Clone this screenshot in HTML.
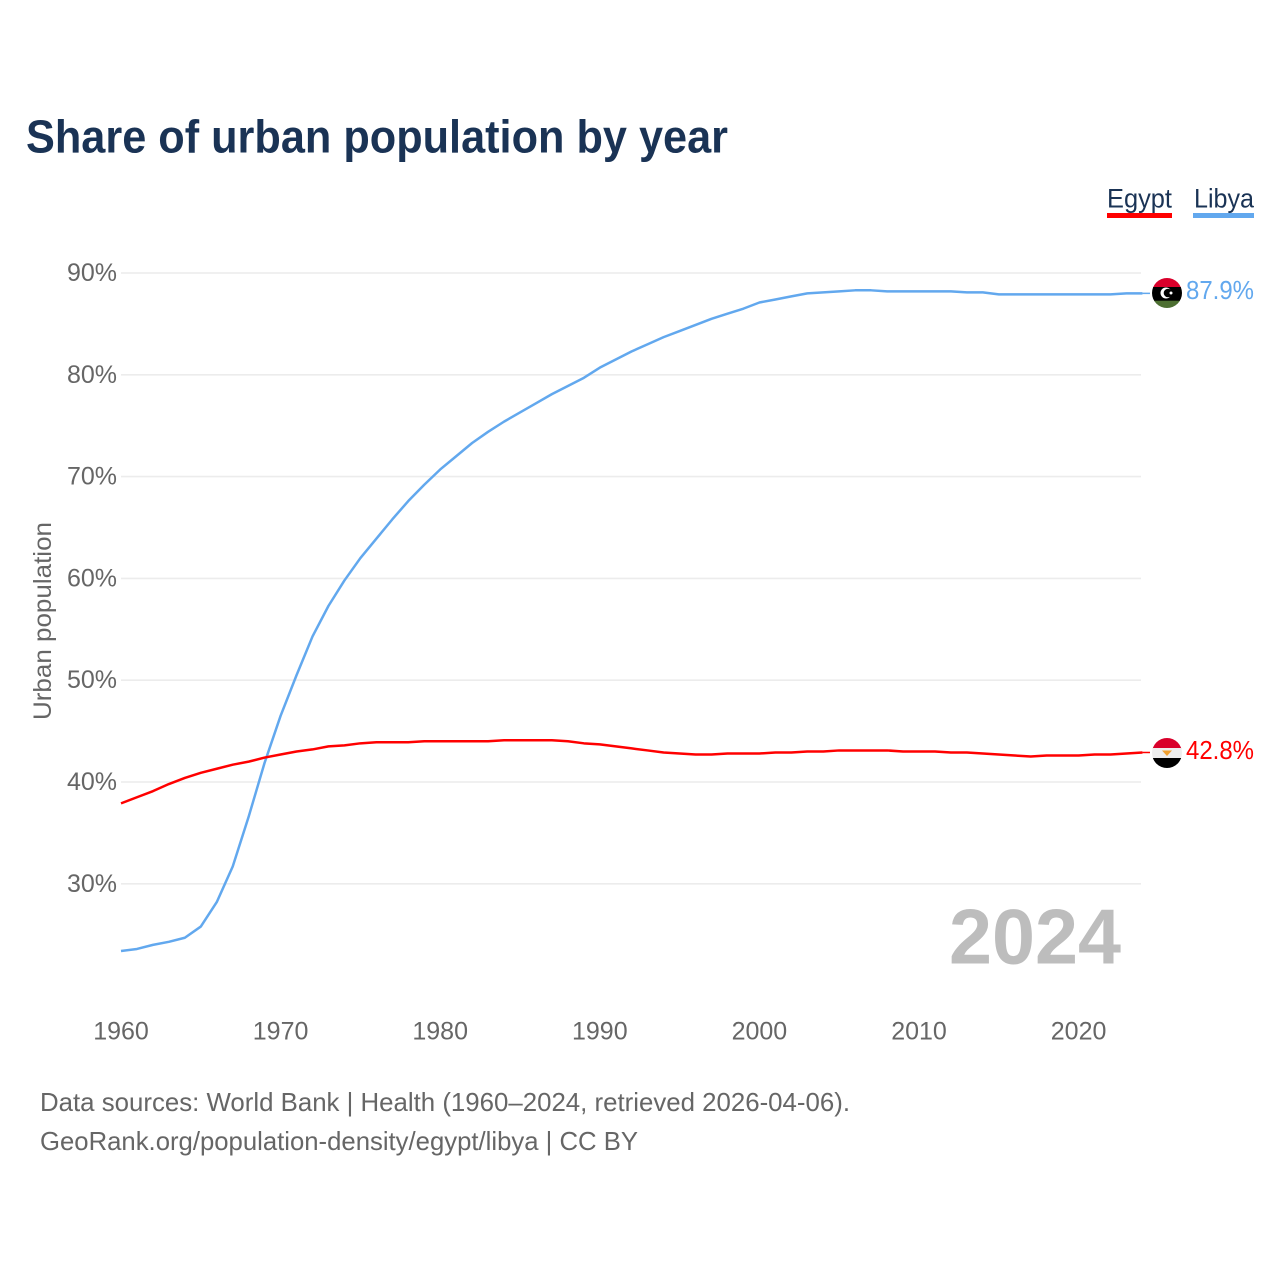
<!DOCTYPE html>
<html lang="en">
<head>
<meta charset="utf-8">
<title>Share of urban population by year</title>
<style>
html,body{margin:0;padding:0;background:#fff;width:1280px;height:1280px;overflow:hidden}
svg{display:block}
text{font-family:"Liberation Sans",sans-serif}
</style>
</head>
<body>
<svg id="chart" xmlns="http://www.w3.org/2000/svg" width="1280" height="1280" viewBox="0 0 1280 1280">
  <defs>
    <clipPath id="clip-libya"><circle cx="1167" cy="293" r="15"/></clipPath>
    <clipPath id="clip-egypt"><circle cx="1167" cy="753" r="15"/></clipPath>
  </defs>
  <text x="26" y="152.500" font-size="46" font-weight="700" fill="#1a3355" textLength="702" lengthAdjust="spacingAndGlyphs">Share of urban population by year</text>

  <g>
    <g>
      <text x="1107" y="207.500" font-size="27" fill="#1a3355" textLength="65" lengthAdjust="spacingAndGlyphs">Egypt</text>
      <rect x="1107" y="213" width="65" height="5" fill="#ff0000"/>
    </g>
    <g>
      <text x="1194" y="207.500" font-size="27" fill="#1a3355" textLength="60" lengthAdjust="spacingAndGlyphs">Libya</text>
      <rect x="1193" y="213" width="61" height="5" fill="#62a8ee"/>
    </g>
  </g>

  <g id="grid"></g>
  <g id="y-ticks"></g>
  <g id="x-ticks"></g>

  <text transform="translate(51,621) rotate(-90)" text-anchor="middle" font-size="25" fill="#666666" textLength="198" lengthAdjust="spacingAndGlyphs">Urban population</text>

  <text x="949" y="963.500" font-size="78" font-weight="700" fill="#bdbdbd" textLength="172" lengthAdjust="spacingAndGlyphs">2024</text>

  <g id="series"></g>

  <g clip-path="url(#clip-libya)">
    <rect x="1152" y="278" width="30" height="9.500" fill="#d9002b"/>
    <rect x="1152" y="287" width="30" height="14" fill="#000000"/>
    <rect x="1152" y="300.700" width="30" height="8" fill="#4d6f32"/>
    <circle cx="1166" cy="293" r="5.500" fill="#ffffff"/>
    <circle cx="1168" cy="293" r="4.300" fill="#000000"/>
    <circle cx="1171" cy="293" r="1.500" fill="#ffffff"/>
  </g>
  <g clip-path="url(#clip-egypt)">
    <rect x="1152" y="738" width="30" height="10.500" fill="#d9002b"/>
    <rect x="1152" y="748" width="30" height="10.500" fill="#eeeeee"/>
    <rect x="1152" y="758" width="30" height="10" fill="#000000"/>
    <path d="M1162 750.500 L1172 750.500 L1167 756 Z" fill="#f0a030"/>
  </g>

  <text id="label-libya" x="1186" y="299" font-size="26" fill="#62a8ee" textLength="68" lengthAdjust="spacingAndGlyphs">87.9%</text>
  <text id="label-egypt" x="1186" y="759" font-size="26" fill="#ff0000" textLength="68" lengthAdjust="spacingAndGlyphs">42.8%</text>

  <text x="40" y="1111" font-size="26" fill="#666666" textLength="810" lengthAdjust="spacingAndGlyphs">Data sources: World Bank | Health (1960–2024, retrieved 2026-04-06).</text>
  <text x="40" y="1150" font-size="26" fill="#666666" textLength="598" lengthAdjust="spacingAndGlyphs">GeoRank.org/population-density/egypt/libya | CC BY</text>
</svg>
<script>
const startYear = 1960;
const yTickValues = [30, 40, 50, 60, 70, 80, 90];
const xTickValues = [1960, 1970, 1980, 1990, 2000, 2010, 2020];
const egyptValues = [37.9,38.5,39.1,39.8,40.4,40.9,41.3,41.7,42.0,42.4,42.7,43.0,43.2,43.5,43.6,43.8,43.9,43.9,43.9,44.0,44.0,44.0,44.0,44.0,44.1,44.1,44.1,44.1,44.0,43.8,43.7,43.5,43.3,43.1,42.9,42.8,42.7,42.7,42.8,42.8,42.8,42.9,42.9,43.0,43.0,43.1,43.1,43.1,43.1,43.0,43.0,43.0,42.9,42.9,42.8,42.7,42.6,42.5,42.6,42.6,42.6,42.7,42.7,42.8,42.9];
const libyaValues = [23.4,23.6,24.0,24.3,24.7,25.8,28.2,31.7,36.6,41.9,46.5,50.5,54.3,57.3,59.8,62.0,63.9,65.8,67.6,69.2,70.7,72.0,73.3,74.4,75.4,76.3,77.2,78.1,78.9,79.7,80.7,81.5,82.3,83.0,83.7,84.3,84.9,85.5,86.0,86.5,87.1,87.4,87.7,88.0,88.1,88.2,88.3,88.3,88.2,88.2,88.2,88.2,88.2,88.1,88.1,87.9,87.9,87.9,87.9,87.9,87.9,87.9,87.9,88.0,88.0];

const SVG_NS = 'http://www.w3.org/2000/svg';
function xScale(year) { return 121 + (year - 1960) * 15.96; }
function yScale(value) { return 273 + (90 - value) * 10.18; }

const grid = document.getElementById('grid');
const yTicks = document.getElementById('y-ticks');
yTickValues.forEach(function (v) {
  const line = document.createElementNS(SVG_NS, 'line');
  
  
  line.setAttribute('x1', 121);
  line.setAttribute('x2', 1141);
  line.setAttribute('y1', yScale(v));
  line.setAttribute('y2', yScale(v));
  line.setAttribute('stroke', '#ececec');
  line.setAttribute('stroke-width', 1.6);
  grid.appendChild(line);

  const label = document.createElementNS(SVG_NS, 'text');
  
  
  label.setAttribute('x', 117);
  label.setAttribute('y', yScale(v) + 8);
  label.setAttribute('text-anchor', 'end');
  label.setAttribute('font-size', 25);
  label.setAttribute('fill', '#666666');
  label.textContent = v + '%';
  yTicks.appendChild(label);
});

const xTicks = document.getElementById('x-ticks');
xTickValues.forEach(function (y) {
  const label = document.createElementNS(SVG_NS, 'text');
  
  
  label.setAttribute('x', xScale(y));
  label.setAttribute('y', 1039.5);
  label.setAttribute('text-anchor', 'middle');
  label.setAttribute('font-size', 25);
  label.setAttribute('fill', '#666666');
  label.textContent = y;
  xTicks.appendChild(label);
});

const seriesGroup = document.getElementById('series');
function drawSeries(values, color, name) {
  const pts = values.map(function (v, i) {
    return xScale(startYear + i).toFixed(2) + ',' + yScale(v).toFixed(2);
  });
  const line = document.createElementNS(SVG_NS, 'polyline');
  
  
  line.setAttribute('points', pts.join(' '));
  line.setAttribute('fill', 'none');
  line.setAttribute('stroke', color);
  line.setAttribute('stroke-width', 2.5);
  line.setAttribute('stroke-linejoin', 'round');
  seriesGroup.appendChild(line);

  const last = values[values.length - 1];
  const stub = document.createElementNS(SVG_NS, 'line');
  
  
  stub.setAttribute('x1', xScale(startYear + values.length - 1));
  stub.setAttribute('x2', 1150);
  stub.setAttribute('y1', yScale(last));
  stub.setAttribute('y2', yScale(last));
  stub.setAttribute('stroke', color);
  stub.setAttribute('stroke-width', 1.5);
  seriesGroup.appendChild(stub);
}
drawSeries(libyaValues, '#62a8ee', 'line-libya');
drawSeries(egyptValues, '#ff0000', 'line-egypt');
</script>
</body>
</html>
